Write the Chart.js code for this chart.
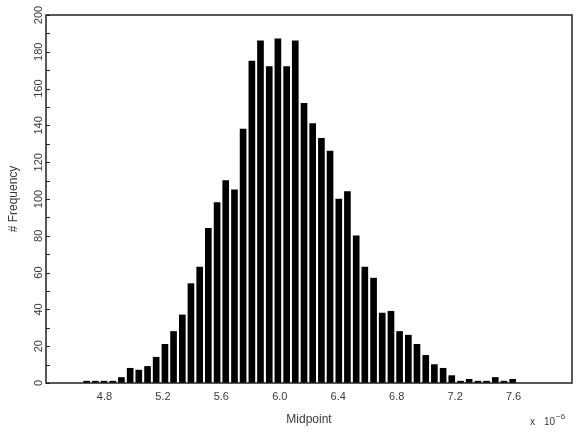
<!DOCTYPE html>
<html><head><meta charset="utf-8">
<script src="https://cdn.jsdelivr.net/npm/chart.js@4/dist/chart.umd.min.js"></script>
<style>html,body{margin:0;padding:0;background:#fff}#wrap{width:577px;height:437px}</style>
</head><body><div id="wrap"><canvas id="c" width="577" height="437"></canvas></div>
<script>
// Bin midpoints (x 10^-6)
const midpoints = [4.678,4.738,4.797,4.857,4.916,4.976,5.035,5.095,5.154,5.214,
  5.273,5.333,5.392,5.452,5.511,5.571,5.630,5.690,5.749,5.809,
  5.868,5.928,5.987,6.047,6.106,6.166,6.225,6.285,6.344,6.404,
  6.463,6.523,6.582,6.642,6.701,6.761,6.820,6.880,6.939,6.999,
  7.058,7.118,7.177,7.237,7.296,7.356,7.415,7.475,7.534,7.594];
// Frequency per bin
const frequency = [1,1,1,1,3,8,7,9,14,21,
  28,37,54,63,84,98,110,105,138,175,
  186,172,187,172,186,152,141,133,126,100,
  104,80,63,57,38,39,28,26,21,15,
  10,8,4,1,2,1,1,3,1,2];
const xTickValues = [4.8,5.2,5.6,6.0,6.4,6.8,7.2,7.6];
const yTickValues = [0,20,40,60,80,100,120,140,160,180,200];
const yMinorStep = 10;

const FONT = "'Liberation Sans', Arial, Helvetica, sans-serif";
const TXT = '#3a3a3a';

const framePlugin = {
  id: 'frame',
  afterDraw(chart) {
    const {ctx, chartArea: a, scales} = chart;
    ctx.save();
    ctx.strokeStyle = '#222';
    ctx.lineWidth = 1.5;
    ctx.strokeRect(a.left, a.top, a.right - a.left, a.bottom - a.top);
    ctx.lineWidth = 1;
    for (let v = scales.y.min; v <= scales.y.max; v += yMinorStep) {
      const y = Math.round(scales.y.getPixelForValue(v)) + 0.5;
      ctx.beginPath();
      ctx.moveTo(a.left, y);
      ctx.lineTo(a.left + 4, y);
      ctx.stroke();
    }
    // exponent label
    ctx.fillStyle = TXT;
    ctx.textBaseline = 'alphabetic';
    ctx.textAlign = 'left';
    ctx.font = "10px " + FONT;
    ctx.fillText('x', 530, 425);
    ctx.fillText('10', 544, 425);
    const w = ctx.measureText('10').width;
    ctx.font = "8px " + FONT;
    ctx.fillText('\u22126', 544 + w + 1, 419);
    ctx.restore();
  }
};

new Chart(document.getElementById('c'), {
  type: 'bar',
  data: {
    datasets: [{
      data: midpoints.map((m, i) => ({x: m, y: frequency[i]})),
      backgroundColor: '#000',
      borderWidth: 0,
      barThickness: 6
    }]
  },
  options: {
    responsive: false,
    animation: false,
    devicePixelRatio: 1,
    layout: {padding: {left: 0, right: 5, top: 15, bottom: 0}},
    plugins: {legend: {display: false}, tooltip: {enabled: false}},
    scales: {
      x: {
        type: 'linear',
        min: 4.4, max: 8.0,
        offset: false,
        grid: {display: false, drawTicks: false},
        border: {display: false},
        afterBuildTicks: s => { s.ticks = xTickValues.map(v => ({value: v})); },
        afterFit: s => { s.height = 54; },
        ticks: {
          autoSkip: false, maxRotation: 0, padding: 7,
          color: TXT, font: {family: FONT, size: 11},
          callback: v => Number(v).toFixed(1)
        },
        title: {display: true, text: 'Midpoint', color: TXT,
          font: {family: FONT, size: 12}, padding: {top: 0, bottom: 10}}
      },
      y: {
        min: 0, max: 200,
        grid: {display: false, drawTicks: false},
        border: {display: false},
        afterBuildTicks: s => { s.ticks = yTickValues.map(v => ({value: v})); },
        afterFit: s => { s.width = 46; },
        ticks: {
          autoSkip: false, minRotation: 90, maxRotation: 90,
          crossAlign: 'center', padding: -2,
          color: TXT, font: {family: FONT, size: 11}
        },
        title: {display: true, text: '# Frequency', color: TXT,
          font: {family: FONT, size: 12}, padding: {top: 6, bottom: 0}}
      }
    }
  },
  plugins: [framePlugin]
});
</script>
</body></html>
